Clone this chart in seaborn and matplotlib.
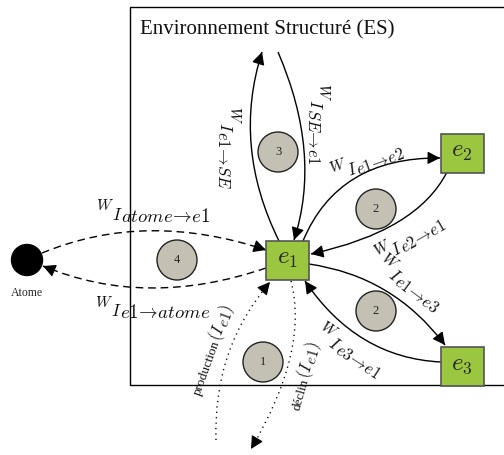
import numpy as np
import matplotlib
matplotlib.use("Agg")
import matplotlib.pyplot as plt
import seaborn as sns
from matplotlib.patches import Rectangle, Circle, PathPatch, FancyArrowPatch
from matplotlib.path import Path

sns.set_theme(style="white")
plt.rcParams['font.family'] = ['Liberation Serif', 'DejaVu Serif']
plt.rcParams['mathtext.fontset'] = 'cm'

# ---- content ----
title = "Environnement Structuré (ES)"
node_names = ["$e_1$", "$e_2$", "$e_3$"]
atom_name = "Atome"
bubble_numbers = ["1", "2", "2", "3", "4"]
weight_subscripts = [
    r"e1\!\rightarrow\! SE",
    r"SE\!\rightarrow\! e1",
    r"e1\!\rightarrow\! e2",
    r"e2\!\rightarrow\! e1",
    r"e1\!\rightarrow\! e3",
    r"e3\!\rightarrow\! e1",
    r"atome\!\rightarrow\! e1",
    r"e1\!\rightarrow\! atome",
]
flux_names = ["production", "déclin"]
flux_subscript = "e1"

# ---- layout (pixel space, y down) ----
node_xy = [(287, 260), (462, 153), (462, 366)]
node_w, node_h = 43, 39
atom_xy = (27, 260)
bubble_xy = [(263, 362), (376, 311), (376, 209), (278, 152), (177, 260)]
edges = [
    ((279, 241), (232, 146), (262, 52), "solid"),
    ((278, 52), (322, 154), (294, 240), "solid"),
    ((303, 241), (338, 157), (440, 158), "solid"),
    ((447, 172), (417, 231), (311, 254), "solid"),
    ((309, 264), (393, 276), (445, 345), "solid"),
    ((441, 362), (357, 358), (305, 281), "solid"),
    ((42, 253), (146, 210), (266, 250), "dashed"),
    ((266, 268), (146, 309), (43, 266), "dashed"),
    ((216, 440), (213, 349), (270, 282), "dotted"),
    ((291, 281), (309, 351), (251, 449), "dotted"),
]
weight_pos = [
    (229, 148, -90), (318, 124, -90), (367, 161, 20), (410, 238, 30),
    (410, 283, -37), (350, 350, -33), (153, 211, 0), (153, 308, 0),
]
sub_sizes = [12, 12, 12, 12, 12, 12, 13.5, 13.5]
flux_pos = [(212, 350, 70), (305, 376, 74)]

fig = plt.figure(figsize=(5.04, 4.55), dpi=100)
ax = fig.add_axes([0, 0, 1, 1])
ax.set_xlim(0, 504)
ax.set_ylim(455, 0)
ax.axis("off")
renderer = fig.canvas.get_renderer()


def text_width(s, size):
    t = ax.text(0, 0, s, fontsize=size)
    w = t.get_window_extent(renderer).width
    t.remove()
    return w


def composite(cx, cy, rot, parts, base_off):
    """parts: list of (string, fontsize, dy, kern); placed along the rotated baseline."""
    th = np.deg2rad(rot)
    u = np.array([np.cos(th), -np.sin(th)])
    v = np.array([np.sin(th), np.cos(th)])
    widths = [text_width(s, sz) + k for s, sz, dy, k in parts]
    x = -sum(widths) / 2
    c = np.array([cx, cy], float)
    for (s, sz, dy, k), w in zip(parts, widths):
        p = c + u * x + v * (dy + base_off)
        ax.text(p[0], p[1], s, fontsize=sz, rotation=rot, rotation_mode="anchor",
                ha="left", va="baseline", color="#111111", zorder=5)
        x += w


# frame
ax.plot([504, 130, 130, 504], [7, 7, 385, 385], color="black", lw=1.0, zorder=1)
ax.text(140, 30, title, fontsize=15, ha="left", va="center", color="#111111")

styles = {"solid": "-", "dashed": (0, (5.5, 3.5)), "dotted": (0, (0.9, 3))}
for (p0, c, p2, st) in edges:
    path = Path([p0, c, p2], [Path.MOVETO, Path.CURVE3, Path.CURVE3])
    ax.add_patch(PathPatch(path, fill=False, lw=1.0, ls=styles[st],
                           edgecolor="black", zorder=2))
    d = np.array(p2, float) - np.array(c, float)
    d /= np.linalg.norm(d)
    start = np.array(p2, float) - d * 3
    ax.add_patch(FancyArrowPatch(tuple(start), p2,
                                 arrowstyle="-|>,head_length=0.55,head_width=0.28",
                                 mutation_scale=14, lw=0.8, color="black",
                                 shrinkA=0, shrinkB=0, zorder=4))

for (x, y, rot), sub, ssz in zip(weight_pos, weight_subscripts, sub_sizes):
    parts = [("$W$", 11, 0, -2),
             ("$I$", 12.5, 9.5, -1.5),
             ("$" + sub + "$", ssz, 11.5, 0)]
    composite(x, y, rot, parts, -1)

for (x, y, rot), name in zip(flux_pos, flux_names):
    parts = [(name, 9.5, 0, 0),
             ("$(I$", 12, 0, -1),
             ("$" + flux_subscript + "$", 11, 3, -1),
             ("$)$", 12, 0, 0)]
    composite(x, y, rot, parts, 4)

for (x, y), num in zip(bubble_xy, bubble_numbers):
    ax.add_patch(Circle((x, y), 20, facecolor="#c4c1b4", edgecolor="#222222",
                        lw=1.0, zorder=3))
    ax.text(x, y, num, fontsize=9, ha="center", va="center", zorder=4)

for (x, y), nm in zip(node_xy, node_names):
    ax.add_patch(Rectangle((x - node_w / 2, y - node_h / 2), node_w, node_h,
                           facecolor="#9bc63f", edgecolor="#555555", lw=1.2, zorder=6))
    ax.text(x, y - 1, nm, fontsize=18, ha="center", va="center", zorder=7)

ax.add_patch(Circle(atom_xy, 15.5, facecolor="black", edgecolor="black", zorder=6))
ax.text(atom_xy[0], 293, atom_name, fontsize=8.5, ha="center", va="center")

fig.savefig("out.png", dpi=100)
